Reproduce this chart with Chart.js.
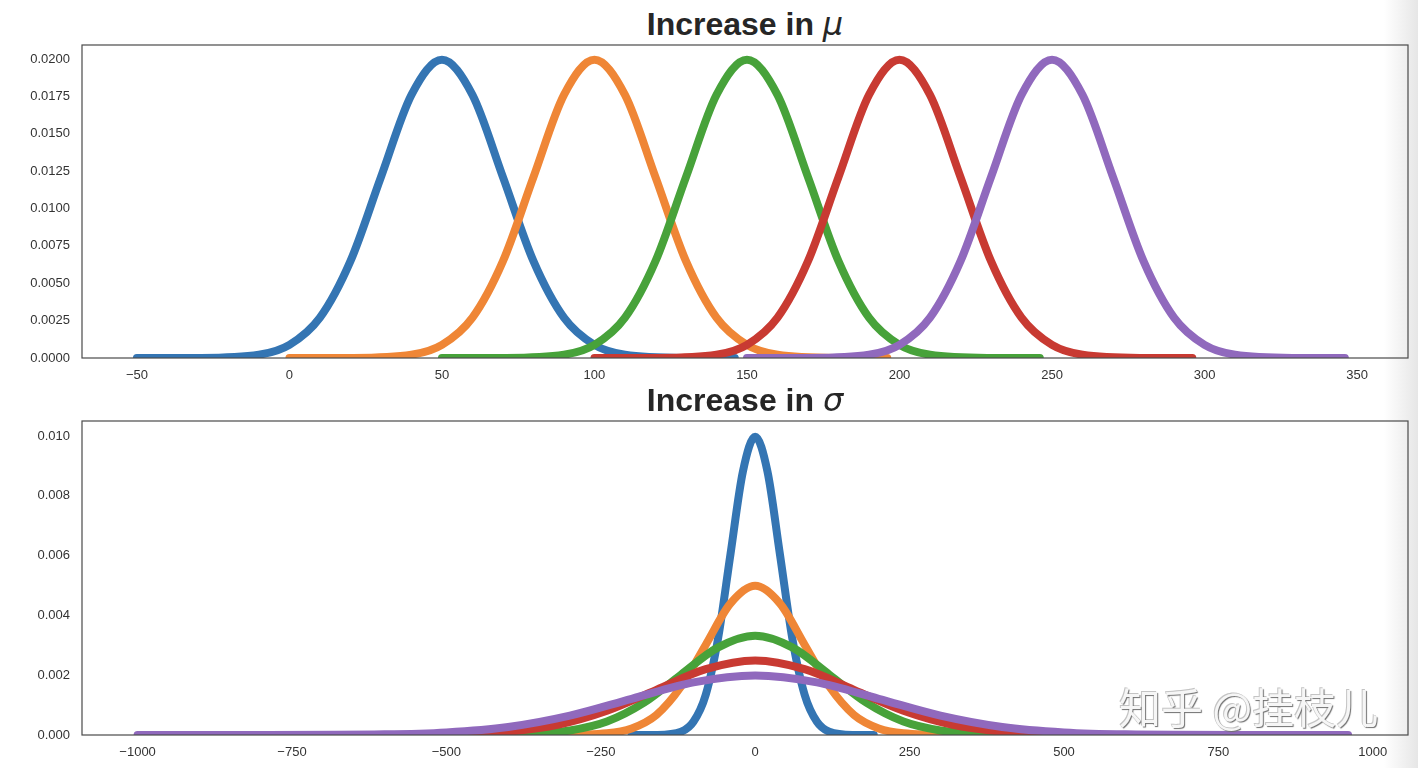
<!DOCTYPE html>
<html>
<head>
<meta charset="utf-8">
<script src="https://cdn.jsdelivr.net/npm/chart.js@4.4.1/dist/chart.umd.min.js"></script>
<style>
  html, body { margin: 0; padding: 0; }
  body {
    width: 1418px; height: 768px; overflow: hidden; position: relative;
    background: linear-gradient(to right, #fff 0, #fff 1384px, #e6e6e6 1418px);
    font-family: "Liberation Sans", Arial, sans-serif;
  }
  canvas { position: absolute; left: 0; }
  .title {
    position: absolute; left: 82px; width: 1326px; text-align: center;
    font-weight: bold; font-size: 32px; color: #262626; line-height: 1;
  }
  .title i { font-family: "DejaVu Sans", sans-serif; font-weight: normal; font-style: italic; }
  .mark {
    position: absolute; left: 1119px; top: 685px;
    font-family: "Noto Sans CJK SC", sans-serif; font-size: 42px; line-height: 1;
    color: #f6f6f6;
    text-shadow: 1px 1px 1px #6f6f6f, -1px -1px 0 #c4c4c4;
  }
</style>
</head>
<body>
<div class="title" style="top:8px">Increase in <i>μ</i></div>
<canvas id="top" width="1418" height="384" style="top:0"></canvas>
<div class="title" style="top:384px">Increase in <i>σ</i></div>
<canvas id="bottom" width="1418" height="384" style="top:384px"></canvas>
<div class="mark">知乎 @挂枝儿</div>
<script>
const colors = ['#3475b3', '#ef8636', '#47a23a', '#c83a32', '#9069bd'];

// top panel: same sigma, shifting mean
const muLabels = ['mu=50', 'mu=100', 'mu=150', 'mu=200', 'mu=250'];
const muX50 = [-50, -30, -10, 0, 10, 20, 30, 40, 50, 60, 70, 80, 90, 100, 110, 130, 146];
const muX100 = [0, 20, 40, 50, 60, 70, 80, 90, 100, 110, 120, 130, 140, 150, 160, 180, 196];
const muX150 = [50, 70, 90, 100, 110, 120, 130, 140, 150, 160, 170, 180, 190, 200, 210, 230, 246];
const muX200 = [100, 120, 140, 150, 160, 170, 180, 190, 200, 210, 220, 230, 240, 250, 260, 280, 296];
const muX250 = [150, 170, 190, 200, 210, 220, 230, 240, 250, 260, 270, 280, 290, 300, 310, 330, 346];
const muDensity = [0, 0.0000067, 0.00022, 0.00088, 0.0027, 0.00648, 0.0121, 0.0176, 0.01995,
  0.0176, 0.0121, 0.00648, 0.0027, 0.00088, 0.00022, 0.0000067, 0.0000002];
const muXTicks = [-50, 0, 50, 100, 150, 200, 250, 300, 350];
const muYTicks = [0, 0.0025, 0.005, 0.0075, 0.01, 0.0125, 0.015, 0.0175, 0.02];

// bottom panel: same mean, growing sigma
const sdLabels = ['sigma=40', 'sigma=80', 'sigma=120', 'sigma=160', 'sigma=200'];
const sdX40 = [-200, -160, -120, -100, -80, -60, -40, -20, 0, 20, 40, 60, 80, 100, 120, 160, 192];
const sdX80 = [-400, -320, -240, -200, -160, -120, -80, -40, 0, 40, 80, 120, 160, 200, 240, 320, 384];
const sdX120 = [-600, -480, -360, -300, -240, -180, -120, -60, 0, 60, 120, 180, 240, 300, 360, 480, 576];
const sdX160 = [-800, -640, -480, -400, -320, -240, -160, -80, 0, 80, 160, 240, 320, 400, 480, 640, 768];
const sdX200 = [-1000, -800, -600, -500, -400, -300, -200, -100, 0, 100, 200, 300, 400, 500, 600, 800, 960];
const sdY40 = [0, 0.0000033, 0.00011, 0.00044, 0.00135, 0.00324, 0.00605, 0.0088, 0.00997,
  0.0088, 0.00605, 0.00324, 0.00135, 0.00044, 0.00011, 0.0000033, 0.0000001];
const sdY80 = [0, 0.0000017, 0.000055, 0.00022, 0.00067, 0.00162, 0.00302, 0.0044, 0.00499,
  0.0044, 0.00302, 0.00162, 0.00067, 0.00022, 0.000055, 0.0000017, 0];
const sdY120 = [0, 0.0000011, 0.000037, 0.00015, 0.00045, 0.00108, 0.00202, 0.00293, 0.00332,
  0.00293, 0.00202, 0.00108, 0.00045, 0.00015, 0.000037, 0.0000011, 0];
const sdY160 = [0, 0.0000008, 0.000028, 0.00011, 0.00034, 0.00081, 0.00151, 0.0022, 0.00249,
  0.0022, 0.00151, 0.00081, 0.00034, 0.00011, 0.000028, 0.0000008, 0];
const sdY200 = [0, 0.0000007, 0.000022, 0.000088, 0.00027, 0.00065, 0.00121, 0.00176, 0.00199,
  0.00176, 0.00121, 0.00065, 0.00027, 0.000088, 0.000022, 0.0000007, 0];
const sdXTicks = [-1000, -750, -500, -250, 0, 250, 500, 750, 1000];
const sdYTicks = [0, 0.002, 0.004, 0.006, 0.008, 0.01];

const pts = (xs, ys) => xs.map((x, i) => ({ x: x, y: ys[i] }));

const frame = {
  id: 'frame',
  afterDraw(chart) {
    const a = chart.chartArea, ctx = chart.ctx;
    ctx.save();
    ctx.strokeStyle = '#4a4a4a';
    ctx.lineWidth = 1.2;
    ctx.strokeRect(a.left, a.top, a.right - a.left, a.bottom - a.top);
    ctx.restore();
  }
};

function makeChart(id, series, labels, xr, yr, xTicks, yTicks, digits, padTop, xHeight) {
  const minus = v => String(v).replace('-', '\u2212');
  return new Chart(document.getElementById(id), {
    type: 'line',
    data: {
      datasets: series.map((s, i) => ({
        label: labels[i],
        data: s,
        borderColor: colors[i],
        borderWidth: 8,
        borderCapStyle: 'round',
        borderJoinStyle: 'round',
        pointRadius: 0,
        fill: false,
        cubicInterpolationMode: 'monotone',
        order: series.length - i
      }))
    },
    options: {
      responsive: false,
      devicePixelRatio: 1,
      animation: false,
      layout: { padding: { top: padTop, right: 10, left: 0, bottom: 0 } },
      plugins: { legend: { display: false }, tooltip: { enabled: false } },
      scales: {
        x: {
          type: 'linear', min: xr[0], max: xr[1],
          grid: { display: false, drawTicks: false },
          border: { display: false },
          afterBuildTicks: sc => { sc.ticks = xTicks.map(v => ({ value: v })); },
          afterFit: sc => { sc.height = xHeight; },
          ticks: {
            padding: 10, color: '#333', maxRotation: 0, autoSkip: false,
            font: { family: 'Liberation Sans, Arial, sans-serif', size: 13 },
            callback: v => minus(v)
          }
        },
        y: {
          type: 'linear', min: yr[0], max: yr[1],
          grid: { display: false, drawTicks: false },
          border: { display: false },
          afterBuildTicks: sc => { sc.ticks = yTicks.map(v => ({ value: v })); },
          afterFit: sc => { sc.width = 82; },
          ticks: {
            padding: 12, color: '#333', autoSkip: false,
            font: { family: 'Liberation Sans, Arial, sans-serif', size: 13 },
            callback: v => Number(v).toFixed(digits)
          }
        }
      }
    },
    plugins: [frame]
  });
}

makeChart('top',
  [pts(muX50, muDensity), pts(muX100, muDensity), pts(muX150, muDensity), pts(muX200, muDensity), pts(muX250, muDensity)],
  muLabels, [-68, 366.7], [0, 0.02094], muXTicks, muYTicks, 4, 45, 26);

makeChart('bottom',
  [pts(sdX40, sdY40), pts(sdX80, sdY80), pts(sdX120, sdY120), pts(sdX160, sdY160), pts(sdX200, sdY200)],
  sdLabels, [-1090, 1057], [0, 0.0105], sdXTicks, sdYTicks, 3, 37, 33);
</script>
</body>
</html>
